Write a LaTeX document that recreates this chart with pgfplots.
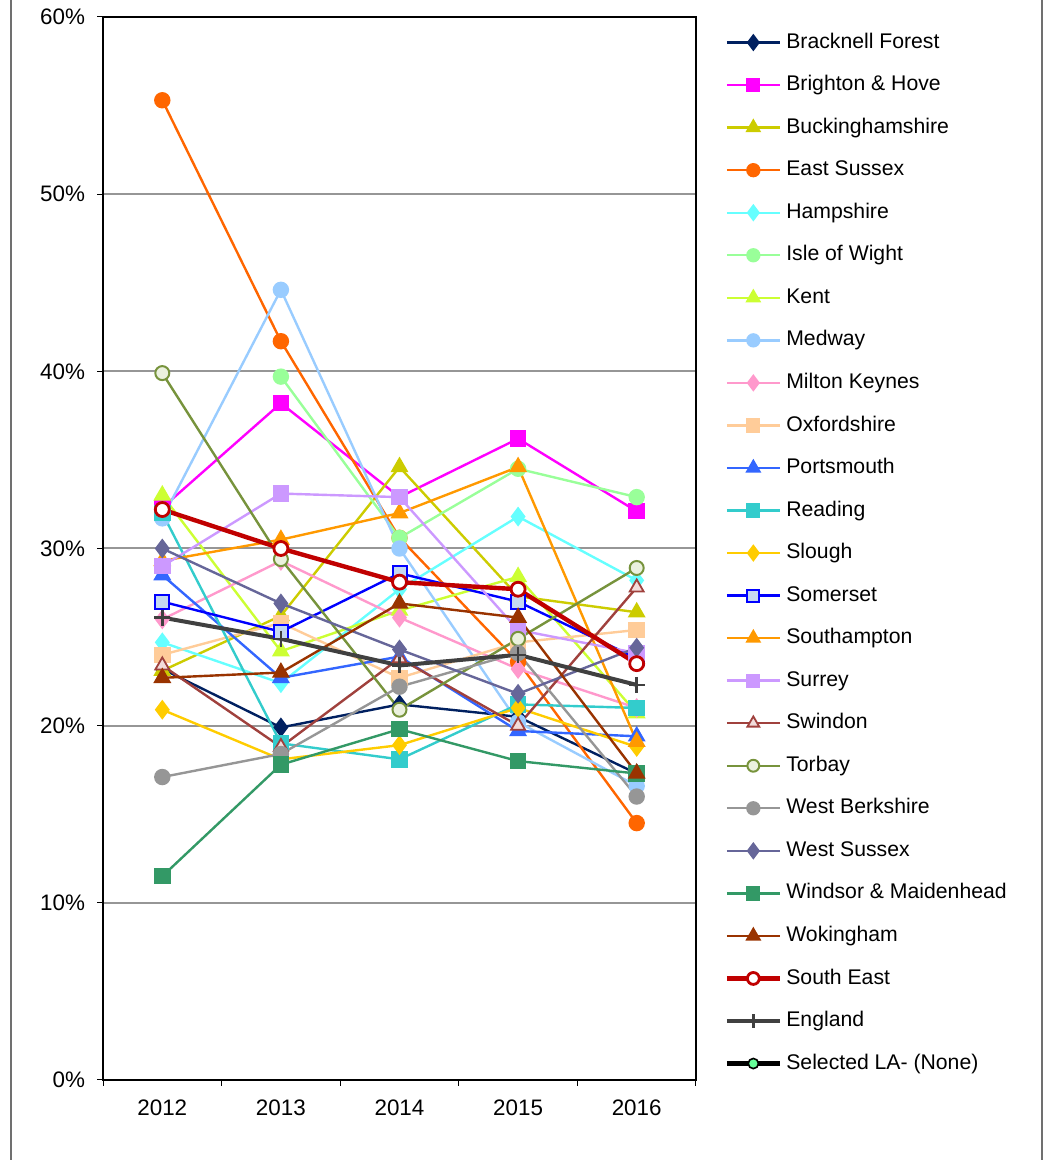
\documentclass[border=0pt]{standalone}
\usepackage{fontspec}
\setmainfont{Liberation Sans}
\usepackage{pgfplots}
\pgfplotsset{compat=1.18}

\definecolor{cBF}{HTML}{002060}
\definecolor{cBH}{HTML}{FF00FF}
\definecolor{cBU}{HTML}{CCCC00}
\definecolor{cES}{HTML}{FF6600}
\definecolor{cHA}{HTML}{66FFFF}
\definecolor{cIW}{HTML}{99FF99}
\definecolor{cKE}{HTML}{CCFF33}
\definecolor{cME}{HTML}{99CCFF}
\definecolor{cMK}{HTML}{FF99CC}
\definecolor{cOX}{HTML}{FFCC99}
\definecolor{cPO}{HTML}{3366FF}
\definecolor{cRE}{HTML}{33CCCC}
\definecolor{cSL}{HTML}{FFCC00}
\definecolor{cSO}{HTML}{0000FF}
\definecolor{cSOf}{HTML}{C5D9F1}
\definecolor{cSH}{HTML}{FF9900}
\definecolor{cSU}{HTML}{CC99FF}
\definecolor{cSW}{HTML}{A0413D}
\definecolor{cSWf}{HTML}{F2DCDB}
\definecolor{cTO}{HTML}{77933C}
\definecolor{cTOf}{HTML}{EBF1DE}
\definecolor{cWB}{HTML}{969696}
\definecolor{cWS}{HTML}{666699}
\definecolor{cWM}{HTML}{339966}
\definecolor{cWO}{HTML}{993300}
\definecolor{cSE}{HTML}{C00000}
\definecolor{cEN}{HTML}{404040}
\definecolor{cSEL}{HTML}{66FF99}
\definecolor{cgrid}{HTML}{969696}
\definecolor{cframe}{HTML}{707070}

\begin{document}
\begin{tikzpicture}[x=1pt,y=1pt]
\path[use as bounding box] (0,0) rectangle (521.5,580);
\begin{axis}[
  at={(51.5pt,40pt)}, anchor=south west,
  scale only axis, width=296.5pt, height=531.5pt,
  xmin=-0.5, xmax=4.5, ymin=0, ymax=60,
  font=\fontsize{10.6}{12.7}\selectfont,
  tick label style={font=\fontsize{11.2}{13.4}\selectfont},
  /pgf/number format/assume math mode=true,
  ytick={0,10,...,60},
  yticklabel={\pgfmathprintnumber{\tick}\%},
  yticklabel style={xshift=-2.5pt},
  xtick={-0.5,0.5,...,4.5}, xticklabels={},
  extra x ticks={0,1,2,3,4},
  extra x tick labels={2012,2013,2014,2015,2016},
  extra x tick style={major tick length=0pt, grid=none,
    xticklabel style={yshift=-6.5pt}},
  tick align=outside, major tick length=3pt,
  xtick pos=bottom, ytick pos=left,
  tick style={black, line width=0.5pt},
  ymajorgrids=true,
  grid style={cgrid, line width=1pt},
  axis line style={black, line width=0.6pt},
  legend style={draw=none, fill=none, at={(1.037,0.9895)}, anchor=north west,
    font=\fontsize{10.6}{12.7}\selectfont,
    nodes={inner sep=0pt, text height=7.8pt, text depth=2.2pt},
    row sep=11.27pt, column sep=2pt},
  legend cell align=left,
  legend image code/.code={\begin{scope}[every mark/.append style={scale=0.85}]
    \draw[mark repeat=2,mark phase=2,#1] plot coordinates {(0pt,0pt) (13.25pt,0pt) (26.5pt,0pt)};
    \end{scope}},
  every axis plot/.append style={line width=1.2pt, mark size=3.5pt, mark options={solid}},
]
% Bracknell Forest
\addplot[cBF, mark=diamond*, mark size=4pt] coordinates {(0,23.2)(1,19.9)(2,21.2)(3,20.5)(4,17.3)};
\addlegendentry{Bracknell Forest}
% Brighton & Hove
\addplot[cBH, mark=square*] coordinates {(0,32.3)(1,38.2)(2,32.9)(3,36.2)(4,32.1)};
\addlegendentry{Brighton \& Hove}
% Buckinghamshire
\addplot[cBU, mark=triangle*, mark size=4pt] coordinates {(0,23.1)(1,26.2)(2,34.6)(3,27.3)(4,26.4)};
\addlegendentry{Buckinghamshire}
% East Sussex
\addplot[cES, mark=*] coordinates {(0,55.3)(1,41.7)(2,30.6)(3,23.6)(4,14.5)};
\addlegendentry{East Sussex}
% Hampshire
\addplot[cHA, mark=diamond*, mark size=4pt] coordinates {(0,24.7)(1,22.4)(2,27.7)(3,31.8)(4,28.2)};
\addlegendentry{Hampshire}
% Isle of Wight (no 2012 value)
\addplot[cIW, mark=*] coordinates {(1,39.7)(2,30.6)(3,34.5)(4,32.9)};
\addlegendentry{Isle of Wight}
% Kent
\addplot[cKE, mark=triangle*, mark size=4pt] coordinates {(0,33.0)(1,24.2)(2,26.5)(3,28.4)(4,20.7)};
\addlegendentry{Kent}
% Medway
\addplot[cME, mark=*] coordinates {(0,31.7)(1,44.6)(2,30.0)(3,20.2)(4,16.6)};
\addlegendentry{Medway}
% Milton Keynes
\addplot[cMK, mark=diamond*, mark size=4pt] coordinates {(0,26.0)(1,29.3)(2,26.1)(3,23.2)(4,21.0)};
\addlegendentry{Milton Keynes}
% Oxfordshire
\addplot[cOX, mark=square*] coordinates {(0,24.0)(1,25.8)(2,22.7)(3,24.7)(4,25.4)};
\addlegendentry{Oxfordshire}
% Portsmouth
\addplot[cPO, mark=triangle*, mark size=4pt] coordinates {(0,28.5)(1,22.7)(2,23.9)(3,19.7)(4,19.4)};
\addlegendentry{Portsmouth}
% Reading
\addplot[cRE, mark=square*] coordinates {(0,32.0)(1,19.0)(2,18.1)(3,21.2)(4,21.0)};
\addlegendentry{Reading}
% Slough
\addplot[cSL, mark=diamond*, mark size=4pt] coordinates {(0,20.9)(1,18.1)(2,18.9)(3,21.0)(4,18.8)};
\addlegendentry{Slough}
% Somerset
\addplot[cSO, mark=square*, mark options={fill=cSOf, draw=cSO, line width=1pt}] coordinates {(0,27.0)(1,25.3)(2,28.6)(3,27.0)(4,23.8)};
\addlegendentry{Somerset}
% Southampton
\addplot[cSH, mark=triangle*, mark size=4pt] coordinates {(0,29.3)(1,30.5)(2,32.0)(3,34.6)(4,19.1)};
\addlegendentry{Southampton}
% Surrey
\addplot[cSU, mark=square*] coordinates {(0,29.0)(1,33.1)(2,32.9)(3,25.4)(4,24.1)};
\addlegendentry{Surrey}
% Swindon
\addplot[cSW, mark=triangle*, mark size=4pt, mark options={fill=cSWf, draw=cSW, line width=0.9pt}] coordinates {(0,23.4)(1,18.8)(2,23.8)(3,20.0)(4,27.8)};
\addlegendentry{Swindon}
% Torbay
\addplot[cTO, mark=*, mark options={fill=cTOf, draw=cTO, line width=1pt}] coordinates {(0,39.9)(1,29.4)(2,20.9)(3,24.9)(4,28.9)};
\addlegendentry{Torbay}
% West Berkshire
\addplot[cWB, mark=*] coordinates {(0,17.1)(1,18.4)(2,22.2)(3,24.1)(4,16.0)};
\addlegendentry{West Berkshire}
% West Sussex
\addplot[cWS, mark=diamond*, mark size=4pt] coordinates {(0,30.0)(1,26.9)(2,24.3)(3,21.8)(4,24.4)};
\addlegendentry{West Sussex}
% Windsor & Maidenhead
\addplot[cWM, mark=square*] coordinates {(0,11.5)(1,17.8)(2,19.8)(3,18.0)(4,17.3)};
\addlegendentry{Windsor \& Maidenhead}
% Wokingham
\addplot[cWO, mark=triangle*, mark size=4pt] coordinates {(0,22.7)(1,23.0)(2,26.9)(3,26.1)(4,17.3)};
\addlegendentry{Wokingham}
% South East
\addplot[cSE, line width=2.2pt, mark=*, mark options={fill=white, draw=cSE, line width=1.4pt}] coordinates {(0,32.2)(1,30.0)(2,28.1)(3,27.7)(4,23.5)};
\addlegendentry{South East}
% England
\addplot[cEN, line width=2pt, mark=+, mark size=4pt, mark options={line width=1.2pt}] coordinates {(0,26.1)(1,24.9)(2,23.4)(3,24.0)(4,22.3)};
\addlegendentry{England}
% Selected LA (no data)
\addlegendimage{black, line width=2.5pt, mark=*, mark size=3pt, mark options={fill=cSEL, draw=black, line width=0.8pt}}
\addlegendentry{Selected LA- (None)}
\end{axis}
\draw[cframe, line width=1pt] (5.5,0) -- (5.5,580);
\draw[cframe, line width=1pt] (521,0) -- (521,580);
\end{tikzpicture}
\end{document}
